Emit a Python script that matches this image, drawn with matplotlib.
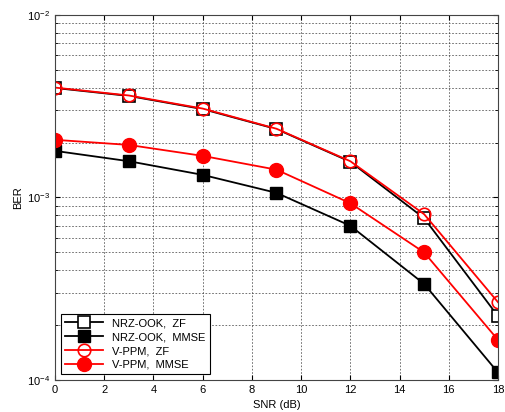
import matplotlib
matplotlib.use("Agg")
import matplotlib.pyplot as plt
from matplotlib.ticker import LogLocator, NullFormatter

plt.rcParams['font.family'] = ['Liberation Sans', 'DejaVu Sans']

snr = [0, 3, 6, 9, 12, 15, 18]
nrz_zf = [3.98e-3, 3.6e-3, 3.05e-3, 2.37e-3, 1.57e-3, 7.7e-4, 2.24e-4]
nrz_mmse = [1.80e-3, 1.58e-3, 1.33e-3, 1.06e-3, 7.0e-4, 3.36e-4, 1.1e-4]
vppm_zf = [4.0e-3, 3.62e-3, 3.07e-3, 2.38e-3, 1.58e-3, 8.1e-4, 2.67e-4]
vppm_mmse = [2.07e-3, 1.94e-3, 1.69e-3, 1.42e-3, 9.3e-4, 5.0e-4, 1.66e-4]
labels = ["NRZ-OOK,  ZF", "NRZ-OOK,  MMSE", "V-PPM,  ZF", "V-PPM,  MMSE"]

fig = plt.figure(figsize=(5.05, 4.12), dpi=100)
ax = fig.add_axes([0.109, 0.0777, 0.877, 0.886])

ax.semilogy(snr, nrz_zf, color="black", lw=1.3, marker="s", ms=8, mfc="white", mec="black", mew=1.2, label=labels[0])
ax.semilogy(snr, nrz_mmse, color="black", lw=1.3, marker="s", ms=9, mfc="black", mec="black", label=labels[1])
ax.semilogy(snr, vppm_zf, color="red", lw=1.3, marker="o", ms=9, mfc="none", mec="red", mew=1.2, label=labels[2])
ax.semilogy(snr, vppm_mmse, color="red", lw=1.3, marker="o", ms=10, mfc="red", mec="red", label=labels[3])

ax.set_xlim(0, 18)
ax.set_ylim(1e-4, 1e-2)
ax.set_xticks(range(0, 19, 2))
ax.yaxis.set_major_locator(LogLocator(base=10, numticks=10))
ax.yaxis.set_minor_locator(LogLocator(base=10, subs=range(2, 10), numticks=20))
ax.yaxis.set_minor_formatter(NullFormatter())
ax.grid(True, which="both", linestyle=(0, (2, 2)), color="#333333", lw=0.6, alpha=0.8)
ax.tick_params(labelsize=8, direction="in", which="both", top=True, right=True)
ax.set_xlabel("SNR (dB)", fontsize=8)
ax.set_ylabel("BER", fontsize=8, labelpad=3)
for s in ax.spines.values():
    s.set_color("#444444")

leg = ax.legend(loc="lower left", fontsize=8, fancybox=False, edgecolor="black",
                framealpha=1, handlelength=3.4, borderpad=0.4, labelspacing=0.35)
leg.get_frame().set_linewidth(0.8)

fig.savefig("out.png", dpi=100)
